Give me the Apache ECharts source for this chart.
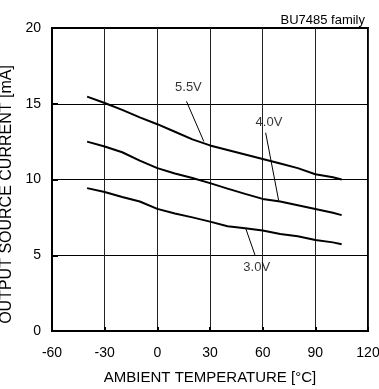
<!DOCTYPE html>
<html>
<head>
<meta charset="utf-8">
<script src="https://cdn.jsdelivr.net/npm/echarts@6/dist/echarts.min.js"></script>
<style>
  html, body { margin: 0; padding: 0; background: #fff; }
  #chart-div { width: 379px; height: 389px; }
</style>
</head>
<body>
<div id="chart-div"></div>
<script>
// temperatures (°C) and output source current (mA) per supply voltage
const temps = [-40, -30, -20, -10, 0, 10, 20, 30, 40, 50, 60, 70, 80, 90, 100, 105]
const v55 = [15.47, 15.05, 14.6, 14.1, 13.65, 13.15, 12.65, 12.25, 11.95, 11.65, 11.35, 11.05, 10.75, 10.35, 10.15, 10.0]
const v40 = [12.5, 12.18, 11.8, 11.25, 10.75, 10.4, 10.1, 9.76, 9.4, 9.05, 8.72, 8.55, 8.3, 8.05, 7.8, 7.65]
const v30 = [9.43, 9.17, 8.85, 8.55, 8.06, 7.75, 7.5, 7.22, 6.92, 6.78, 6.63, 6.4, 6.25, 6.01, 5.85, 5.73]

// label text and where it sits, plus its leader line
const labelNames = ['5.5V', '4.0V', '3.0V']
const labelPos = [[17.7, 16.06], [63.6, 13.79], [56.6, 4.18]]
const leaders = [
    [[16.6, 15.16], [26.5, 12.51]],
    [[61.7, 13.09], [69.1, 8.61]],
    [[50.3, 6.79], [55.6, 5.02]]
]

const font = 'Arial, "Liberation Sans", sans-serif'

function pairs(ys) {
    return temps.map((t, i) => [t, ys[i]])
}

let myChart = echarts.init(document.getElementById('chart-div'))

let series = [v55, v40, v30].map(ys => ({
    type: 'line',
    data: pairs(ys),
    showSymbol: false,
    smooth: false,
    lineStyle: { color: '#000', width: 2 },
    silent: true
}))

leaders.forEach(l => {
    series.push({
        type: 'line',
        data: l,
        showSymbol: false,
        lineStyle: { color: '#000', width: 1 },
        silent: true
    })
})

series.push({
    type: 'scatter',
    symbolSize: 0,
    data: labelPos.map((p, i) => ({ value: p, name: labelNames[i] })),
    label: {
        show: true,
        position: 'inside',
        formatter: '{b}',
        color: '#000',
        fontSize: 13,
        fontFamily: font
    },
    silent: true
})

const option = {
    animation: false,
    title: {
        text: 'BU7485 family',
        right: 9,
        top: 9,
        textStyle: { fontSize: 13, fontWeight: 'normal', color: '#000', fontFamily: font }
    },
    grid: {
        left: 52, right: 11, top: 28, bottom: 58,
        outerBoundsMode: 'none',
        containLabel: false,
        show: true,
        borderColor: '#000',
        borderWidth: 2
    },
    xAxis: {
        type: 'value',
        min: -60, max: 120, interval: 30,
        name: 'AMBIENT TEMPERATURE [°C]',
        nameLocation: 'middle',
        nameGap: 39,
        nameTextStyle: { fontSize: 15, color: '#000', fontFamily: font },
        axisLine: { show: true, onZero: false, lineStyle: { color: '#000', width: 2 } },
        axisTick: { show: true, inside: true, length: 4, lineStyle: { color: '#000', width: 2 } },
        axisLabel: { fontSize: 14, color: '#000', fontFamily: font, margin: 15 },
        splitLine: { show: true, lineStyle: { color: '#222', width: 1 } }
    },
    yAxis: {
        type: 'value',
        min: 0, max: 20, interval: 5,
        name: 'OUTPUT SOURCE CURRENT [mA]',
        nameLocation: 'middle',
        nameGap: 31,
        nameTextStyle: { fontSize: 16, color: '#000', fontFamily: font, padding: [0, 30, 0, 0] },
        axisLine: { show: true, onZero: false, lineStyle: { color: '#000', width: 2 } },
        axisTick: { show: true, inside: true, length: 6, lineStyle: { color: '#000', width: 2 } },
        axisLabel: { fontSize: 14, color: '#000', fontFamily: font, margin: 11 },
        splitLine: { show: true, lineStyle: { color: '#000', width: 1 } }
    },
    series: series
}

myChart.setOption(option)
</script>
</body>
</html>
